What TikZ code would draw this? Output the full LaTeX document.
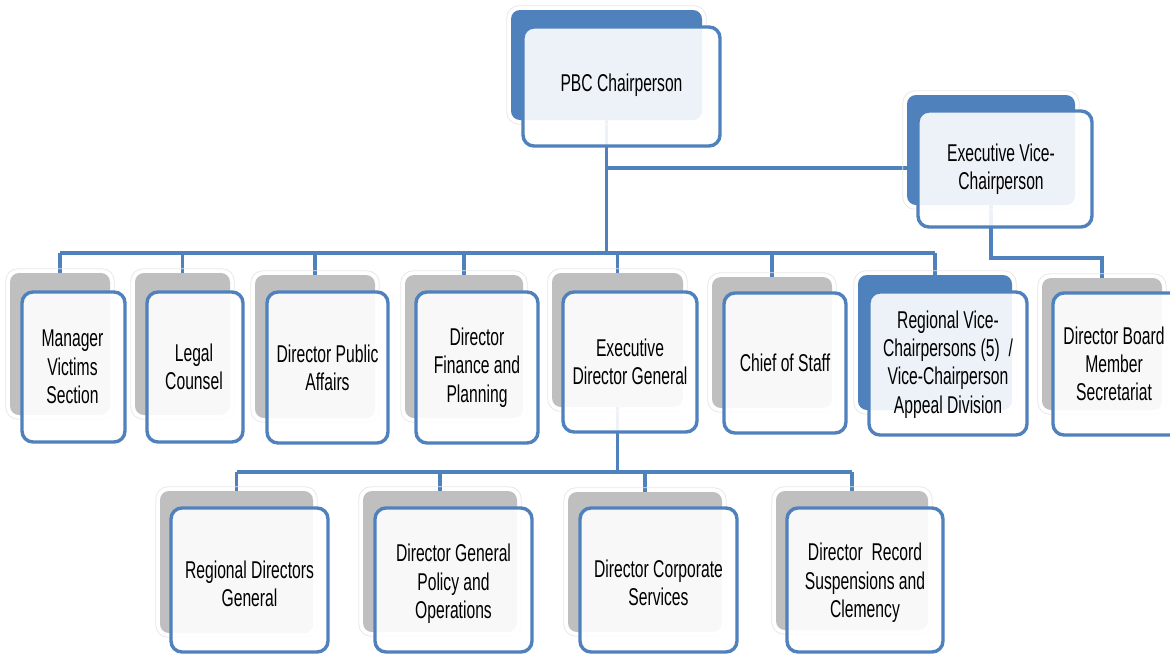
\documentclass[tikz,border=0pt]{standalone}
\usepackage{fontspec}
\setmainfont{Liberation Sans}[FakeStretch=0.645]
\usetikzlibrary{fit,backgrounds}
\definecolor{obl}{RGB}{79,129,189}
\definecolor{ogr}{RGB}{191,191,191}
\tikzset{
  backbox/.style={rectangle, rounded corners=9pt, inner sep=0pt, draw=none},
  halo/.style={rectangle, rounded corners=12pt, inner sep=4pt, draw=black!9, line width=0.8pt},
  frontbox/.style={rectangle, rounded corners=11pt, inner sep=0pt, draw=obl, line width=3.4pt, fill=white, fill opacity=0.9},
  lbl/.style={align=center, inner sep=0pt, font=\fontsize{24.3}{28.3}\selectfont, text=black},
  conn/.style={draw=obl, line width=3.8pt},
}
\newcommand\orgunit[6]{%
  \node[backbox, fill=#2, fit={#3}] (#1B) {};
  \node[halo, fit=(#1B)] (#1H) {};
  \node[frontbox, fit={#4}] (#1F) {};
  \node[lbl, #6] (#1T) at (#1F.center) {#5};
}
\begin{document}
\begin{tikzpicture}[x=1pt,y=-1pt]
\useasboundingbox (0,0) rectangle (1170,654);
\clip (0,0) rectangle (1170,654);
\coordinate (busA) at (0,253);
\coordinate (busB) at (0,258);
\coordinate (busC) at (0,472);
\coordinate (evpY) at (0,168);

\orgunit{pbc}{obl}{(511,10) (702,120)}{(523,27) (720,146)}{PBC Chairperson}{yshift=1pt}
\orgunit{evp}{obl}{(907,95) (1075,205)}{(918,111) (1092,227)}{Executive Vice-\\Chairperson}{xshift=-4pt}
\orgunit{mv}{ogr}{(10,273) (110,415)}{(22,292) (125,442)}{Manager\\Victims\\Section}{xshift=-1pt}
\orgunit{lc}{ogr}{(135,273) (230,415)}{(147,292) (243,442)}{Legal\\Counsel}{xshift=-1pt}
\orgunit{dpa}{ogr}{(255,275) (375,418)}{(267,292) (388,443)}{Director Public\\Affairs}{}
\orgunit{dfp}{ogr}{(405,275) (523,418)}{(416,292) (538,443)}{Director\\Finance and\\Planning}{}
\orgunit{edg}{ogr}{(552,273) (683,407)}{(563,292) (697,432)}{Executive\\Director General}{}
\orgunit{cos}{ogr}{(712,277) (832,408)}{(724,293) (846,433)}{Chief of Staff}{}
\orgunit{rv}{obl}{(858,275) (1012,410)}{(869,292) (1027,435)}{Regional Vice-\\Chairpersons (5) ~/\\Vice-Chairperson\\Appeal Division}{yshift=-1pt}
\orgunit{db}{ogr}{(1042,278) (1162,410)}{(1053,293) (1185,435)}{Director Board\\Member\\Secretariat}{xshift=-5pt}
\orgunit{rdg}{ogr}{(160,491) (313,633)}{(171,508) (328,652)}{Regional Directors\\General}{yshift=-4pt}
\orgunit{dgp}{ogr}{(363,491) (517,632)}{(375,508) (532,652)}{Director General\\Policy and\\Operations}{yshift=-4pt}
\orgunit{dcs}{ogr}{(568,492) (722,632)}{(580,508) (737,652)}{Director Corporate\\Services}{yshift=-3pt}
\orgunit{drs}{ogr}{(776,491) (928,630)}{(787,508) (943,652)}{Director~ Record\\Suspensions and\\Clemency}{yshift=-3pt}

\begin{scope}[on background layer]
  \fill[white] (0,0) rectangle (1170,654);
  \draw[conn] (pbcB.south) -- (pbcB.south |- busA);
  \draw[conn] (pbcB.south |- evpY) -- (evpB.west |- evpY);
  \draw[conn] (mvB.north |- busA) -- (rvB.north |- busA);
  \foreach \n in {mvB,lcB,dpaB,dfpB,edgB,cosB,rvB}
    \draw[conn] (\n.north) -- (\n.north |- busA);
  \draw[conn] (evpB.south) -- (evpB.south |- busB) -- (dbB.north |- busB) -- (dbB.north);
  \draw[conn] (edgB.south) -- (edgB.south |- busC);
  \draw[conn] (rdgB.north |- busC) -- (drsB.north |- busC);
  \foreach \n in {rdgB,dgpB,dcsB,drsB}
    \draw[conn] (\n.north) -- (\n.north |- busC);
\end{scope}
\end{tikzpicture}
\end{document}
